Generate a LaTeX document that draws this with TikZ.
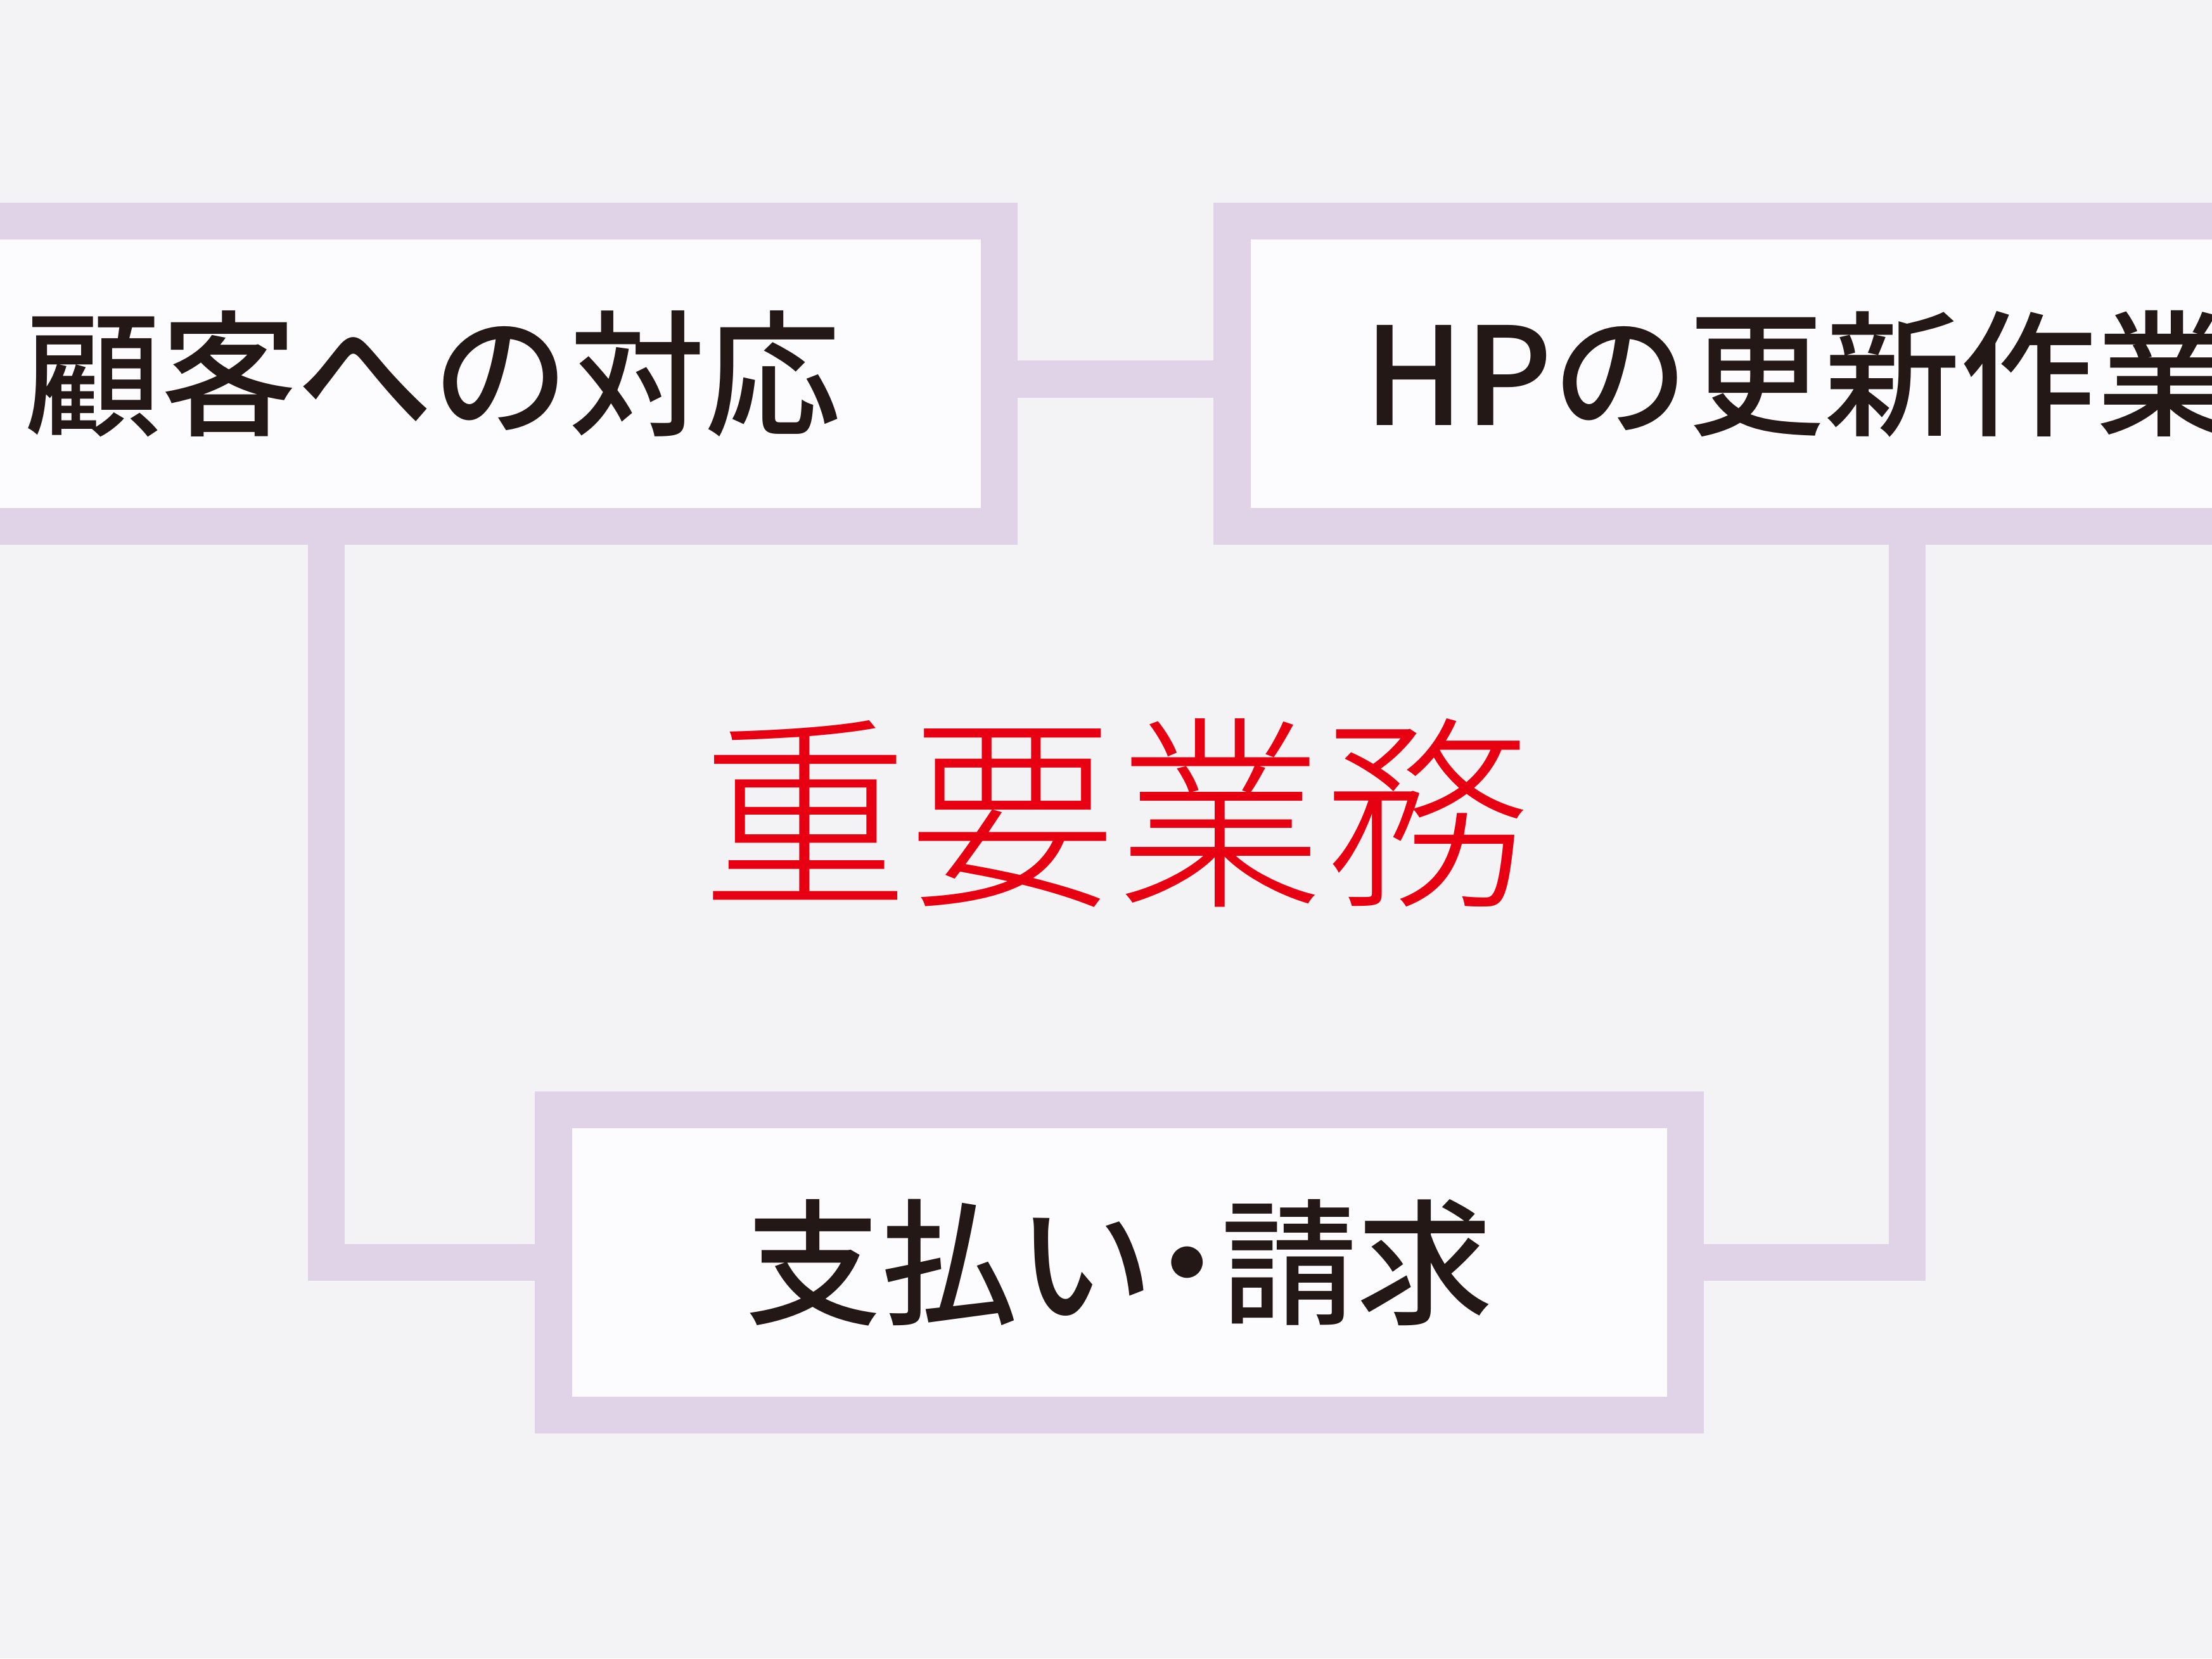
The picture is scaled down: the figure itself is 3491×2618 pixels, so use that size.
\documentclass[tikz,border=0pt]{standalone}
\usepackage{fontspec}
\newfontfamily\jpfont{Noto Sans CJK JP}[UprightFont={* Medium}]
\newfontfamily\jplight{Noto Sans CJK JP}[UprightFont={* Light}]
\usepackage{xcolor}
\usetikzlibrary{positioning,backgrounds}
\definecolor{pagebg}{RGB}{243,243,245}
\definecolor{boxline}{RGB}{225,211,231}
\definecolor{boxfill}{RGB}{252,252,254}
\definecolor{ink}{RGB}{35,24,21}
\definecolor{keyred}{RGB}{230,0,18}
\tikzset{
  taskbox/.style={draw=boxline, line width=5.8mm, fill=boxfill, inner sep=0pt,
    minimum width=178.5mm, minimum height=48.25mm,
    font=\jpfont\fontsize{61}{61}\selectfont, text=ink},
  tasklink/.style={draw=boxline, line width=5.8mm},
  keyword/.style={font=\jplight\fontsize{93}{93}\selectfont, text=keyred},
}

\begin{document}
\begin{tikzpicture}[x=0.01cm, y=-0.01cm]
  \useasboundingbox (0,0) rectangle (3491,2618);
  \begin{scope}[on background layer]
    \fill[pagebg] (0,0) rectangle (3491,2618);
  \end{scope}
  \node[taskbox] (care) at (683.5,590) {顧客への対応};
  \node[taskbox] (web) at (2837.5,590) {HPの更新作業};
  \node[taskbox] (bill) at (1766.5,1993) {支払い\kern-0.25em・\kern-0.25em請求};
  \node[keyword] (core) at (1762,1283) {重要業務};
  \begin{scope}[on background layer]
    \draw[tasklink] ([yshift=-0.085cm]care.east) -- ([yshift=-0.085cm]web.west);
    \draw[tasklink] ([xshift=-1.685cm]care.south) |- (bill.west);
    \draw[tasklink] ([xshift=1.725cm]web.south) |- (bill.east);
  \end{scope}
\end{tikzpicture}
\end{document}
